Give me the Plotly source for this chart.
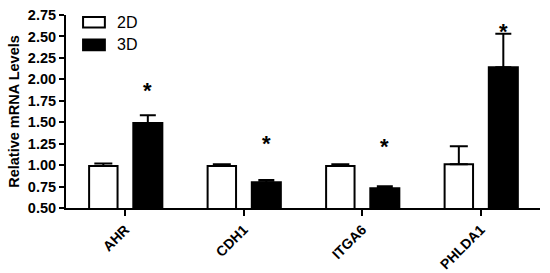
import plotly.graph_objects as go

genes = ["AHR", "CDH1", "ITGA6", "PHLDA1"]
series = ["2D", "3D"]
vals_2d = [0.99, 0.99, 0.99, 1.01]
err_2d = [0.03, 0.02, 0.02, 0.21]
vals_3d = [1.49, 0.80, 0.73, 2.14]
err_3d = [0.09, 0.025, 0.025, 0.39]
star_y = [1.90, 1.29, 1.25, 2.59]
y_ticks = [0.50, 0.75, 1.00, 1.25, 1.50, 1.75, 2.00, 2.25, 2.50, 2.75]

font = "Liberation Sans, Arial, sans-serif"
fig = go.Figure()

fig.add_trace(go.Bar(
    x=genes, y=vals_2d, name=series[0],
    width=0.24, offset=-0.305,
    marker=dict(color="white", line=dict(color="black", width=2)),
    error_y=dict(type="data", array=err_2d, arrayminus=[0] * 4, symmetric=False,
                 color="black", thickness=2, width=9),
))
fig.add_trace(go.Bar(
    x=genes, y=vals_3d, name=series[1],
    width=0.245, offset=0.068,
    marker=dict(color="black", line=dict(color="black", width=2)),
    error_y=dict(type="data", array=err_3d, arrayminus=[0] * 4, symmetric=False,
                 color="black", thickness=2, width=8),
))

# significance stars over the 3D bars
for i, sy in enumerate(star_y):
    fig.add_annotation(x=i + 0.19, y=sy, text="<b>*</b>", showarrow=False,
                       font=dict(size=22, color="black", family=font),
                       yanchor="middle", yshift=-3)

# legend drawn by hand (wide flat boxes like the original)
legend_fill = ["white", "black"]
for k, name in enumerate(series):
    top = 0.99 - k * 0.117
    fig.add_shape(type="rect", xref="paper", yref="paper",
                  x0=0.036, x1=0.082, y0=top - 0.055, y1=top,
                  fillcolor=legend_fill[k], line=dict(color="black", width=2))
    fig.add_annotation(xref="paper", yref="paper", x=0.103, y=top - 0.0275,
                       text=name, showarrow=False, xanchor="left", yanchor="middle",
                       font=dict(size=16, color="black", family=font))

fig.update_layout(
    width=550, height=273,
    margin=dict(l=66, r=10, t=15, b=65),
    paper_bgcolor="white", plot_bgcolor="white",
    barmode="overlay", showlegend=False,
    font=dict(family=font, color="black"),
    xaxis=dict(
        range=[-0.5, 3.5], showline=True, linecolor="black", linewidth=2,
        ticks="outside", ticklen=6, tickwidth=2, tickcolor="black",
        tickangle=-45, tickfont=dict(size=14, family=font),
        tickvals=genes, ticktext=["<b>%s</b>" % g for g in genes],
        showgrid=False, zeroline=False, automargin=False,
    ),
    yaxis=dict(
        range=[0.5, 2.75], showline=True, linecolor="black", linewidth=2,
        ticks="outside", ticklen=5, tickwidth=2, tickcolor="black",
        tickvals=y_ticks, ticktext=["<b>%.2f</b>" % t for t in y_ticks],
        tickfont=dict(size=14.5, family=font),
        title=dict(text="<b>Relative mRNA Levels</b>", font=dict(size=14.5, family=font), standoff=5),
        showgrid=False, zeroline=False, automargin=False,
    ),
)

fig.write_html("out.html", config={"displayModeBar": False},
               post_script="document.body.style.margin='0';")
